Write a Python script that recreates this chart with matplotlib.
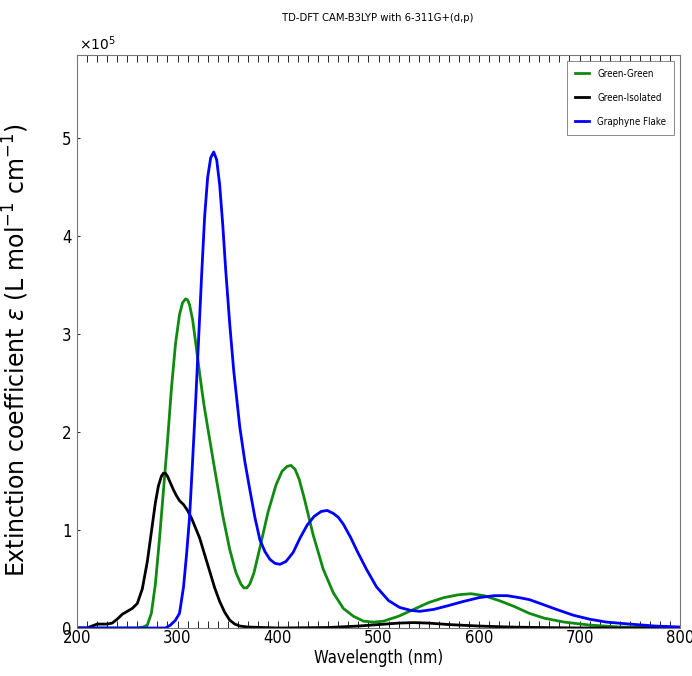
import numpy as np
import matplotlib
matplotlib.use("Agg")
import matplotlib.pyplot as plt
from matplotlib.ticker import MultipleLocator
from matplotlib import font_manager

# spectra (wavelength nm, epsilon / 1e5)
gg_wl = [200, 260, 266, 270, 274, 278, 282, 286, 290, 294, 298, 302, 305, 308, 310,
         312, 315, 318, 322, 326, 330, 337, 345, 352, 358, 363, 366, 369, 372, 376,
         382, 390, 398, 404, 409, 413, 417, 421, 426, 435, 445, 455, 465, 475, 485,
         495, 505, 520, 535, 550, 565, 580, 592, 605, 620, 635, 650, 665, 685, 710,
         740, 800]
gg_eps = [0, 0, 0.01, 0.03, 0.15, 0.45, 0.9, 1.4, 1.9, 2.45, 2.9, 3.2, 3.32, 3.36, 3.35,
          3.3, 3.15, 2.92, 2.6, 2.3, 2.05, 1.62, 1.15, 0.8, 0.57, 0.45, 0.41, 0.41, 0.45, 0.56,
          0.82, 1.18, 1.46, 1.6, 1.65, 1.66, 1.62, 1.52, 1.33, 0.95, 0.6, 0.36, 0.2, 0.12, 0.07,
          0.06, 0.07, 0.12, 0.19, 0.26, 0.31, 0.34, 0.35, 0.33, 0.28, 0.22, 0.15, 0.1, 0.06, 0.03,
          0.01, 0]

gi_wl = [200, 210, 215, 220, 230, 235, 240, 245, 250, 255, 260, 265, 270, 274, 278,
         281, 284, 286, 288, 290, 293, 296, 299, 302, 306, 310, 314, 318, 322, 327,
         332, 337, 342, 347, 352, 357, 362, 370, 400, 450, 480, 500, 520, 535, 550,
         570, 600, 630, 660, 700, 800]
gi_eps = [0, 0, 0.02, 0.04, 0.04, 0.05, 0.09, 0.14, 0.17, 0.2, 0.25, 0.4, 0.68, 0.98, 1.28,
          1.45, 1.55, 1.58, 1.58, 1.55, 1.48, 1.41, 1.35, 1.3, 1.26, 1.2, 1.12, 1.02, 0.92, 0.75,
          0.58, 0.41, 0.27, 0.16, 0.08, 0.04, 0.02, 0.01, 0.0, 0.005, 0.02, 0.035, 0.05, 0.055, 0.05,
          0.035, 0.02, 0.01, 0.005, 0, 0]

gf_wl = [200, 288, 293, 298, 302, 306, 309, 312, 315, 318, 321, 324, 327, 330, 333,
         336, 339, 342, 345, 348, 352, 356, 362, 367, 372, 377, 382, 387, 392, 397,
         402, 408, 415, 422, 429, 436, 443, 449, 455, 460, 465, 472, 479, 488, 498,
         510, 521, 532, 541, 555, 570, 584, 600, 615, 628, 640, 650, 661, 677, 694,
         710, 727, 750, 775, 800]
gf_eps = [0, 0, 0.03, 0.08, 0.15, 0.42, 0.75, 1.13, 1.7, 2.3, 2.95, 3.6, 4.2, 4.6, 4.8,
          4.86, 4.78, 4.52, 4.12, 3.65, 3.1, 2.62, 2.05, 1.7, 1.41, 1.13, 0.9, 0.78, 0.7, 0.66,
          0.65, 0.68, 0.77, 0.92, 1.05, 1.14, 1.19, 1.2, 1.17, 1.13, 1.06, 0.93, 0.78, 0.6, 0.42,
          0.28, 0.21, 0.18, 0.17, 0.19, 0.23, 0.27, 0.31, 0.33, 0.33, 0.31, 0.29, 0.25, 0.19, 0.13,
          0.09, 0.06, 0.04, 0.02, 0.01]


def narrow(size):
    return font_manager.FontProperties(family='DejaVu Sans', stretch='condensed', size=size)


fig = plt.figure(figsize=(6.92, 6.76), dpi=100)
ax = fig.add_axes([77/692, 48/676, 603/692, 573/676])

ax.plot(gg_wl, gg_eps, color='#108a10', lw=2, label='Green-Green')
ax.plot(gi_wl, gi_eps, color='black', lw=2, label='Green-Isolated')
ax.plot(gf_wl, gf_eps, color='#0000ff', lw=2, label='Graphyne Flake')

ax.set_xlim(200, 800)
ax.set_ylim(0, 5.85)
ax.xaxis.set_major_locator(MultipleLocator(100))
ax.xaxis.set_minor_locator(MultipleLocator(10))
ax.set_yticks([0, 1, 2, 3, 4, 5])
ax.set_yticklabels(['0', '1', '2', '3', '4', '5'], fontproperties=narrow(12))
ax.set_xticks([200, 300, 400, 500, 600, 700, 800])
ax.set_xticklabels(['200', '300', '400', '500', '600', '700', '800'], fontproperties=narrow(12))
ax.tick_params(axis='x', which='both', direction='in', top=True, length=5, width=0.6, pad=1)
ax.tick_params(axis='y', which='both', direction='in', length=2, width=0.6, pad=4)
for s in ax.spines.values():
    s.set_color('#777777')
    s.set_linewidth(0.8)

ax.text(0.004, 1.004, r'$\times10^5$', transform=ax.transAxes, fontsize=10,
        ha='left', va='bottom')

ax.set_xlabel('Wavelength (nm)', fontproperties=narrow(12), labelpad=1)
ax.set_ylabel(r'Extinction coefficient $\varepsilon$ (L mol$^{-1}$ cm$^{-1}$)',
              fontsize=17)
ax.yaxis.set_label_coords(-0.076, 0.485)
fig.text(378/692, 1 - 18/676, 'TD-DFT CAM-B3LYP with 6-311G+(d,p)',
         fontproperties=narrow(8), ha='center', va='center')

leg = ax.legend(loc='upper right', prop=narrow(7), handlelength=1.4,
                borderaxespad=0.6, fancybox=False, framealpha=1, edgecolor='#777777',
                labelspacing=1.45, borderpad=0.8, handletextpad=0.9)
leg.get_frame().set_linewidth(0.6)

fig.savefig('out.png', dpi=100)
